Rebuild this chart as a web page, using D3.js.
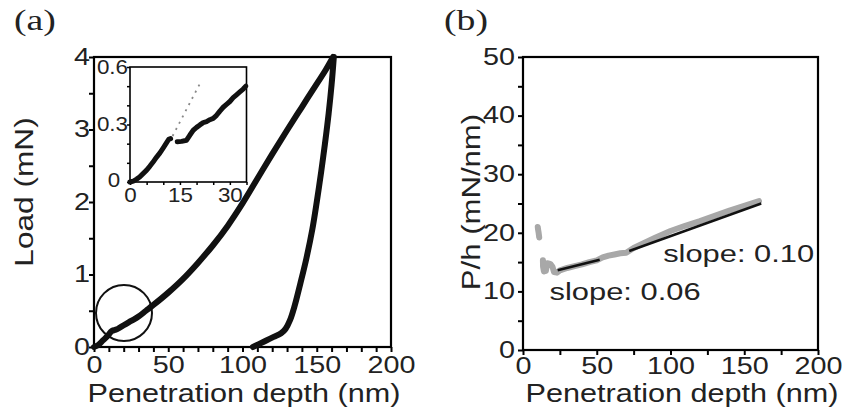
<!DOCTYPE html>
<html>
<head>
<meta charset="utf-8">
<script src="https://cdn.jsdelivr.net/npm/d3@7"></script>
<style>
  html, body { margin: 0; padding: 0; background: #fff; }
  svg { display: block; font-family: "Liberation Sans", Arial, sans-serif; }
</style>
</head>
<body>
<svg id="chart" width="854" height="416"></svg>
<script>
// ---------------- DATA ----------------
// Panel (a): load-displacement
const loadingCurve = [[0,0],[3,0.03],[6,0.09],[9,0.15],[12,0.22],[14,0.235],[16,0.25],[20,0.30],[25,0.36],[30,0.42],[35,0.50],[40,0.58],[50,0.75],[60,0.94],[70,1.16],[80,1.40],[90,1.67],[100,1.98],[110,2.32],[120,2.66],[130,2.99],[140,3.31],[150,3.63],[156,3.82],[161,4.0]];
const unloadingCurve = [[161.5,4.0],[160,3.62],[158,3.22],[155.5,2.8],[153,2.42],[150,2.0],[147,1.62],[143,1.22],[139,0.88],[135,0.56],[132,0.37],[129,0.25],[126,0.19],[121,0.14],[116,0.09],[111,0.04],[107,0]];
const circleCenter = [20.2, 0.47];
const xTicksA = d3.range(0, 201, 10);
const xLabelsA = [0, 50, 100, 150, 200];
const yTicksA = d3.range(0, 4.01, 0.5);
const yLabelsA = [0, 1, 2, 3, 4];

// Inset (zoom of initial loading)
const insetSeg1 = [[0,0],[1,0.005],[2,0.015],[3,0.028],[4,0.045],[5,0.062],[6,0.083],[7,0.106],[8,0.13],[9,0.152],[10,0.178],[11,0.205],[11.6,0.222],[12.2,0.226]];
const insetSeg2 = [[14.2,0.21],[15.5,0.212],[17,0.218],[18,0.245],[19,0.27],[20,0.285],[21,0.298],[22,0.31],[23,0.315],[24,0.325],[25,0.332],[26,0.348],[27,0.37],[28,0.39],[29,0.405],[30,0.42],[31,0.44],[32,0.455],[33,0.47],[34,0.485],[34.8,0.5]];
const insetGuide = [[12.8,0.24],[21.2,0.52]];
const xTicksInset = d3.range(0, 35.1, 5);
const xLabelsInset = [0, 15, 30];
const yTicksInset = d3.range(0, 0.61, 0.1);
const yLabelsInset = [0, 0.3, 0.6];

// Panel (b): P/h vs depth
const greyCluster = [[10,21],[10.2,20.6],[10.6,20],[11,19.2]];
const greyBand = [[13.5,15.3],[13.6,14.2],[14.2,13.4],[15.5,13.5],[16.5,14.8],[18.5,14.7],[20,14.2],[21,13.3],[23,13.2],[25,13.6],[30,14.0],[35,14.3],[40,14.6],[45,15.0],[50,15.3],[54,15.8],[58,16.1],[62,16.3],[66,16.5],[70,16.6],[75,17.4],[80,18.0],[90,19.2],[100,20.3],[110,21.2],[120,22.0],[130,22.9],[140,23.8],[150,24.6],[160,25.4]];
const fitLine1 = [[23.5,13.6],[52,15.4]];
const fitLine2 = [[72,16.9],[161.5,25]];
const slopeLabels = [{text: "slope: 0.06", at: [18, 8.5]}, {text: "slope: 0.10", at: [95, 15.0]}];
const xTicksB = d3.range(0, 201, 25);
const xLabelsB = [0, 50, 100, 150, 200];
const yTicksB = d3.range(0, 51, 5);
const yLabelsB = [0, 10, 20, 30, 40, 50];

// ---------------- DRAWING ----------------
const svg = d3.select("#chart");
const FONT_TICK = 23, FONT_TITLE = 25.5, STRETCH_TICK = 1.25, STRETCH_TITLE = 1.2;
const SERIF = "'Liberation Serif', 'Times New Roman', serif";

function stretch(sel, k) {
  sel.each(function () {
    const t = d3.select(this);
    const x = +t.attr("x") || 0;
    t.attr("x", x / k).attr("transform", `scale(${k},1)`);
  });
}
function fmt(labels) {
  return d => labels.some(l => Math.abs(l - d) < 1e-9) ? String(+d.toFixed(2)) : "";
}
function styleAxis(g, fontSize, k) {
  g.select(".domain").remove();
  g.selectAll(".tick line").attr("stroke", "#000").attr("stroke-width", 2);
  g.selectAll("text").attr("fill", "#222").style("font-size", fontSize + "px");
  stretch(g.selectAll("text"), k);
}
function frame(g, x, y, w) {
  const [x0, x1] = x.range(), [y0, y1] = y.range();
  g.append("rect").attr("x", x0).attr("y", y1).attr("width", x1 - x0).attr("height", y0 - y1)
    .attr("fill", "none").attr("stroke", "#000").attr("stroke-width", w);
}
function label(g, txt, x, y, size, k, rotate, family, anchor) {
  g.append("text")
    .attr("transform", `translate(${x},${y})` + (rotate ? " rotate(-90)" : "") + ` scale(${k},1)`)
    .attr("text-anchor", anchor || "middle")
    .style("font-size", size + "px")
    .style("font-family", family || null)
    .attr("fill", "#222")
    .text(txt);
}

// ----- Panel (a) -----
const gA = svg.append("g");
const xA = d3.scaleLinear().domain([0, 200]).range([94, 391]);
const yA = d3.scaleLinear().domain([0, 4]).range([347, 57]);

gA.append("g").attr("transform", `translate(0,${yA(0)})`)
  .call(d3.axisBottom(xA).tickValues(xTicksA).tickFormat(fmt(xLabelsA)).tickSize(5).tickPadding(5))
  .call(g => styleAxis(g, FONT_TICK, STRETCH_TICK));
gA.append("g").attr("transform", `translate(${xA(0)},0)`)
  .call(d3.axisLeft(yA).tickValues(yTicksA).tickFormat(fmt(yLabelsA)).tickSize(5).tickPadding(-1))
  .call(g => styleAxis(g, FONT_TICK, STRETCH_TICK));
frame(gA, xA, yA, 2.2);

const lineA = d3.line().x(d => xA(d[0])).y(d => yA(d[1])).curve(d3.curveMonotoneX);
gA.append("path").datum(loadingCurve).attr("d", lineA)
  .attr("fill", "none").attr("stroke", "#111").attr("stroke-width", 6).attr("stroke-linejoin", "round").attr("stroke-linecap", "round");
gA.append("path").datum(unloadingCurve).attr("d", d3.line().x(d => xA(d[0])).y(d => yA(d[1])).curve(d3.curveCatmullRom))
  .attr("fill", "none").attr("stroke", "#111").attr("stroke-width", 6).attr("stroke-linejoin", "round").attr("stroke-linecap", "round");
gA.append("circle").attr("cx", xA(circleCenter[0])).attr("cy", yA(circleCenter[1])).attr("r", 28)
  .attr("fill", "none").attr("stroke", "#111").attr("stroke-width", 2);

// inset
const xI = d3.scaleLinear().domain([0, 35]).range([130, 246.5]);
const yI = d3.scaleLinear().domain([0, 0.6]).range([182, 67]);
const gI = gA.append("g");
gI.append("g").attr("transform", `translate(0,${yI(0)})`)
  .call(d3.axisBottom(xI).tickValues(xTicksInset).tickFormat(fmt(xLabelsInset)).tickSize(3).tickPadding(3))
  .call(g => styleAxis(g, 20, 1.12));
gI.append("g").attr("transform", `translate(${xI(0)},0)`)
  .call(d3.axisLeft(yI).tickValues(yTicksInset).tickFormat(fmt(yLabelsInset)).tickSize(3).tickPadding(-1))
  .call(g => styleAxis(g, 20, 1.12))
  .call(g => g.selectAll(".tick").filter(d => d === 0).select("text").attr("dx", -7).attr("dy", "0.2em"));
gI.selectAll(".tick line").attr("stroke-width", 1.5);
frame(gI, xI, yI, 1.6);
const lineI = d3.line().x(d => xI(d[0])).y(d => yI(d[1]));
[insetSeg1, insetSeg2].forEach(seg => gI.append("path").datum(seg).attr("d", lineI)
  .attr("fill", "none").attr("stroke", "#111").attr("stroke-width", 5).attr("stroke-linejoin", "round").attr("stroke-linecap", "round"));
gI.append("path").datum(insetGuide).attr("d", lineI)
  .attr("fill", "none").attr("stroke", "#888").attr("stroke-width", 1.8).attr("stroke-dasharray", "2,5");

label(gA, "Penetration depth (nm)", 244, 402, FONT_TITLE, STRETCH_TITLE);
label(gA, "Load (mN)", 33, 192, FONT_TITLE, 1.24, true);
label(gA, "(a)", 14, 30, 29, 1.3, false, SERIF, "start");

// ----- Panel (b) -----
const gB = svg.append("g");
const xB = d3.scaleLinear().domain([0, 200]).range([523, 818]);
const yB = d3.scaleLinear().domain([0, 50]).range([350, 57]);

gB.append("g").attr("transform", `translate(0,${yB(0)})`)
  .call(d3.axisBottom(xB).tickValues(xTicksB).tickFormat(fmt(xLabelsB)).tickSize(5).tickPadding(3))
  .call(g => styleAxis(g, FONT_TICK, STRETCH_TICK));
gB.append("g").attr("transform", `translate(${xB(0)},0)`)
  .call(d3.axisLeft(yB).tickValues(yTicksB).tickFormat(fmt(yLabelsB)).tickSize(5).tickPadding(3))
  .call(g => styleAxis(g, FONT_TICK, STRETCH_TICK));
frame(gB, xB, yB, 2.2);

const lineB = d3.line().x(d => xB(d[0])).y(d => yB(d[1]));
[greyCluster, greyBand].forEach(seg => gB.append("path").datum(seg).attr("d", lineB)
  .attr("fill", "none").attr("stroke", "#a8a8a8").attr("stroke-width", 6).attr("stroke-linejoin", "round").attr("stroke-linecap", "round"));
[fitLine1, fitLine2].forEach(seg => gB.append("path").datum(seg).attr("d", lineB)
  .attr("fill", "none").attr("stroke", "#111").attr("stroke-width", 2.5));
slopeLabels.forEach(s => label(gB, s.text, xB(s.at[0]), yB(s.at[1]), 24.5, 1.26, false, null, "start"));

label(gB, "Penetration depth (nm)", 682, 402, FONT_TITLE, STRETCH_TITLE);
label(gB, "P/h (mN/nm)", 480, 202, FONT_TITLE, 1.22, true);
label(gB, "(b)", 444, 30, 29, 1.3, false, SERIF, "start");
</script>
</body>
</html>
